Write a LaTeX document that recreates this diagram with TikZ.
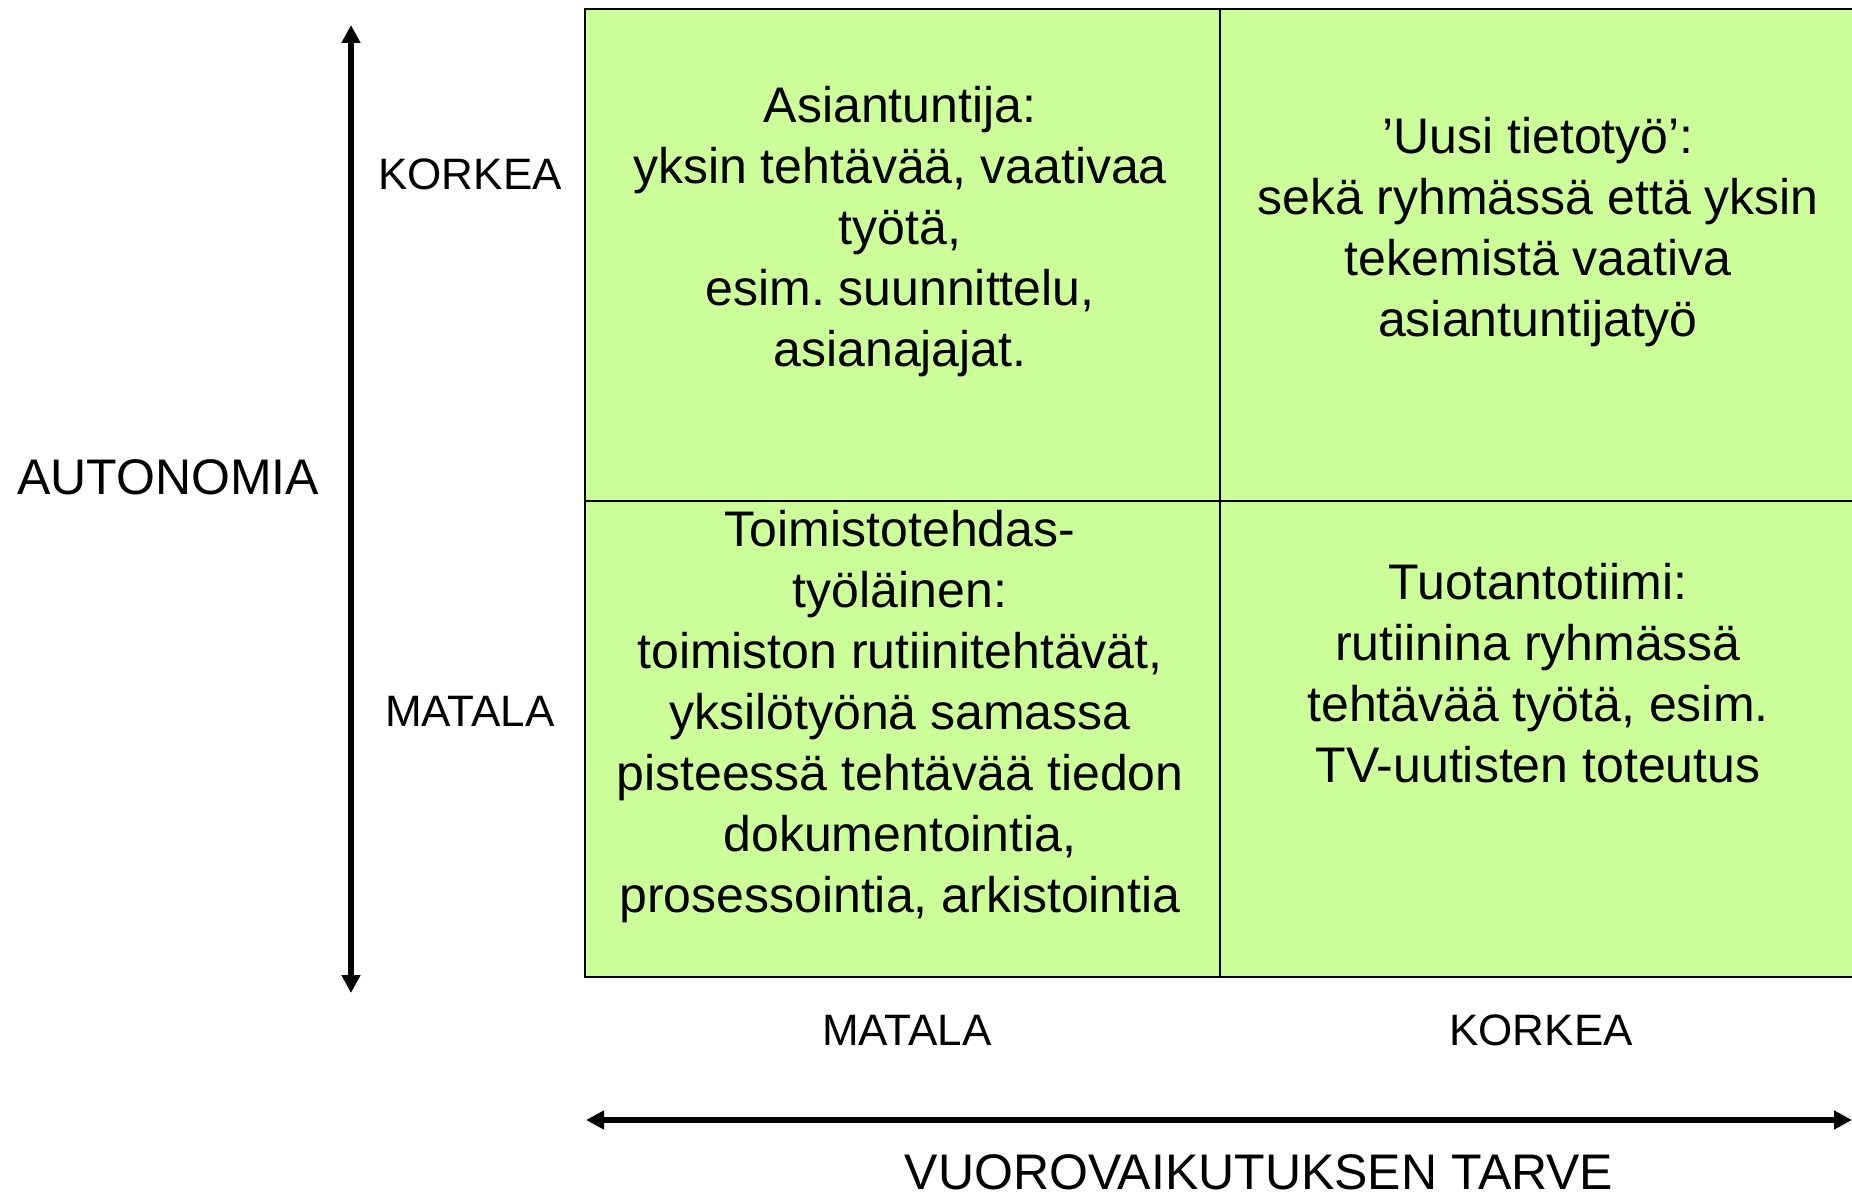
\documentclass[tikz,border=0pt]{standalone}
\usepackage{fontspec}
\setmainfont{Liberation Sans}
\usetikzlibrary{arrows.meta}
\definecolor{cellgreen}{HTML}{CCFF99}
\frenchspacing
\tikzset{
  celltext/.style={align=center,font=\fontsize{25}{30.5}\selectfont},
  levellabel/.style={font=\fontsize{22}{26}\selectfont},
  axistitle/.style={font=\fontsize{25}{30}\selectfont},
  gridline/.style={line width=1.2pt},
  axisarrow/.style={line width=3.2pt,{Triangle[length=9pt,width=9pt]}-{Triangle[length=9pt,width=9pt]}}
}
\begin{document}
\begin{tikzpicture}[x=0.5pt,y=-0.5pt]
\useasboundingbox (0,0) rectangle (1852,1197);

%ruudukko
\fill[cellgreen] (585,9) rectangle (1860,977);
\draw[gridline] (1860,9)--(585,9)--(585,977)--(1860,977);
\draw[gridline] (1220,9)--(1220,977);
\draw[gridline] (585,501)--(1860,501);

%akselit
\coordinate (ytop) at (351,25);
\coordinate (ybot) at (351,993);
\coordinate (xleft) at (586,1120);
\coordinate (xright) at (1852,1120);
\draw[axisarrow] (ybot)--(ytop);
\draw[axisarrow] (xleft)--(xright);

\node[celltext] (asiantuntija) at (900,232) {Asiantuntija:\\yksin tehtävää, vaativaa\\työtä,\\esim. suunnittelu,\\asianajajat.};
\node[celltext] (uusi) at (1538,232) {’Uusi tietotyö’:\\sekä ryhmässä että yksin\\tekemistä vaativa\\asiantuntijatyö};
\node[celltext] (toimisto) at (900,717) {Toimistotehdas-\\työläinen:\\toimiston rutiinitehtävät,\\yksilötyönä samassa\\pisteessä tehtävää tiedon\\dokumentointia,\\prosessointia, arkistointia};
\node[celltext] (tuotanto) at (1538,673) {Tuotantotiimi:\\rutiinina ryhmässä\\tehtävää työtä, esim.\\TV-uutisten toteutus};

\node[levellabel] (ykorkea) at (470,174) {KORKEA};
\node[levellabel] (ymatala) at (470,711) {MATALA};
\node[axistitle] (autonomia) at (168,477) {AUTONOMIA};

\node[levellabel] (xmatala) at (907,1030) {MATALA};
\node[levellabel] (xkorkea) at (1541,1030) {KORKEA};
\node[axistitle] (tarve) at (1259,1172) {VUOROVAIKUTUKSEN TARVE};

\end{tikzpicture}
\end{document}
